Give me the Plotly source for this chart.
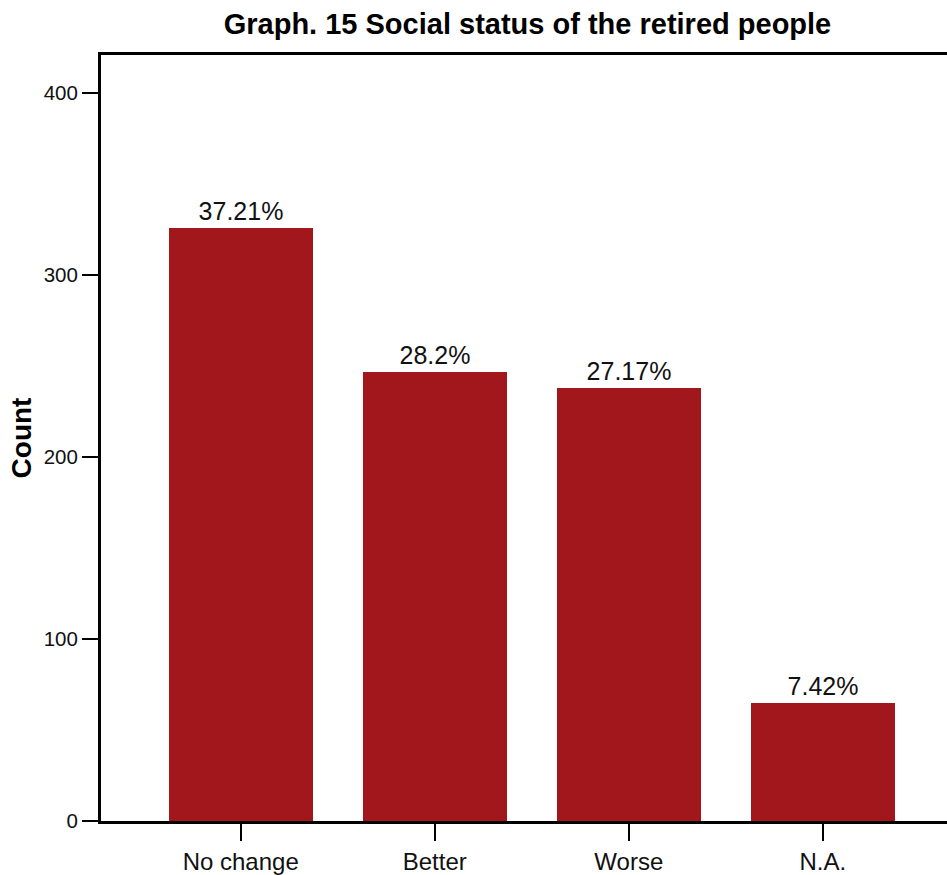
import plotly.graph_objects as go

categories = ["No change", "Better", "Worse", "N.A."]
counts = [326, 247, 238, 65]
pct_labels = ["37.21%", "28.2%", "27.17%", "7.42%"]
y_ticks = [0, 100, 200, 300, 400]

FONT = "Liberation Sans, Arial, sans-serif"

fig = go.Figure()
fig.add_trace(go.Bar(
    x=list(range(len(categories))),
    y=counts,
    width=0.74,
    marker=dict(color="#A1171C", line=dict(width=0)),
    text=pct_labels,
    textposition="outside",
    textfont=dict(family=FONT, size=25, color="#111"),
    cliponaxis=False,
    hoverinfo="skip",
))

fig.update_layout(
    width=947, height=875,
    margin=dict(l=101, r=0, t=55, b=50),
    plot_bgcolor="white", paper_bgcolor="white",
    showlegend=False,
    font=dict(family=FONT, color="#111"),
    title=dict(text="<b>Graph. 15 Social status of the retired people</b>",
               x=0.557, xanchor="center", y=0.973, yanchor="middle",
               font=dict(size=29, color="#000")),
    bargap=0,
)
fig.update_xaxes(
    range=[-0.72, 3.64],
    tickmode="array", tickvals=list(range(len(categories))), ticktext=categories,
    ticks="outside", ticklen=17, tickwidth=2, tickcolor="black",
    tickfont=dict(size=24),
    showline=True, linecolor="black", linewidth=3, mirror=True,
    showgrid=False, zeroline=False,
)
fig.update_yaxes(
    range=[0, 421],
    tickmode="array", tickvals=y_ticks,
    ticks="outside", ticklen=16, tickwidth=2, tickcolor="black",
    tickfont=dict(size=20.5),
    showline=True, linecolor="black", linewidth=3,
    showgrid=False, zeroline=False,
    title=dict(text="<b>Count</b>", font=dict(size=28, color="#000"), standoff=4),
)

fig.write_html(
    "out.html",
    config={"displayModeBar": False},
    post_script="document.body.style.margin='0';document.body.style.overflow='hidden';",
)
